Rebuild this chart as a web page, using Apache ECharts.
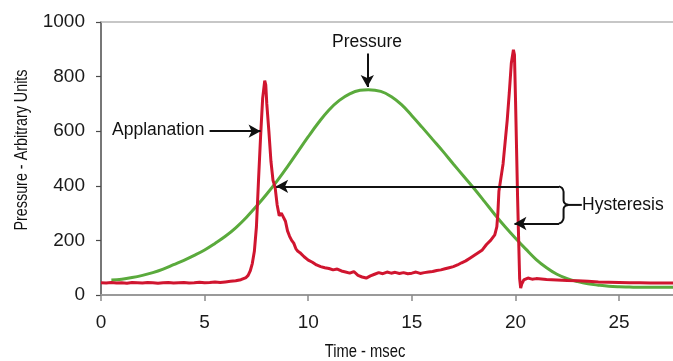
<!DOCTYPE html>
<html><head><meta charset="utf-8">
<script src="https://cdn.jsdelivr.net/npm/echarts@6/dist/echarts.min.js"></script>
<style>html,body{margin:0;padding:0;background:#fff}#c{width:673px;height:361px}</style>
</head><body><div id="c"></div>
<script>
// ---- data ----
const xTicks = [0, 5, 10, 15, 20, 25];
const yTicks = [0, 200, 400, 600, 800, 1000];
const xTitle = 'Time - msec';
const yTitle = 'Pressure - Arbitrary Units';

// Applanation signal (red)
const redTime = [0,0.25,0.5,0.75,1,1.25,1.5,1.75,2,2.25,2.5,2.75,3,3.25,3.5,3.75,4,4.25,4.5,4.75,5,5.25,5.5,5.75,6,6.25,6.5,6.75,7,7.1,7.2,7.3,7.4,7.5,7.6,7.7,7.8,7.9,7.95,8.0,8.1,8.2,8.3,8.4,8.5,8.6,8.7,8.8,8.9,9.0,9.1,9.2,9.3,9.4,9.5,9.6,9.8,10.0,10.2,10.4,10.6,10.8,11.0,11.2,11.4,11.6,11.8,12.0,12.2,12.4,12.6,12.8,13.0,13.2,13.4,13.6,13.8,14.0,14.2,14.4,14.6,14.8,15.0,15.2,15.4,15.6,15.8,16.0,16.2,16.4,16.6,16.8,17.0,17.2,17.4,17.6,17.8,18.0,18.2,18.4,18.6,18.8,18.9,19.0,19.1,19.15,19.2,19.3,19.4,19.5,19.6,19.7,19.8,19.9,19.95,20.0,20.05,20.1,20.15,20.2,20.25,20.3,20.4,20.6,20.8,21.0,21.5,22,22.5,23,23.5,24,24.5,25,25.5,26,26.5,27,27.6];
const redPressure = [45,44,46,44,45,43,46,45,44,46,45,43,45,46,44,45,46,44,45,47,45,46,48,46,48,50,52,56,64,72,88,115,160,250,420,580,720,785,770,700,600,490,420,395,330,290,300,285,270,235,215,200,190,170,160,155,140,128,120,110,104,100,97,92,95,88,84,80,86,72,66,62,70,76,82,78,84,80,83,79,82,78,80,84,79,82,84,86,90,92,96,100,104,110,118,125,135,145,155,165,185,200,210,220,250,300,380,430,480,560,640,740,850,898,880,720,540,360,210,60,25,40,55,62,58,60,57,55,53,52,50,48,47,46,45,45,44,44,44];

// Pressure (green)
const greenTime = [0.5,1,1.5,2,2.5,3,3.5,4,4.5,5,5.5,6,6.5,7,7.5,8,8.5,9,9.5,10,10.5,11,11.5,12,12.5,12.9,13.5,14,14.5,15,15.5,16,16.5,17,17.5,18,18.5,19,19.5,20,20.5,21,21.5,22,22.5,23,23.5,24,24.5,25,25.5,26,27,27.6];
const greenPressure = [55,58,64,72,82,95,111,127,145,165,189,215,246,283,325,370,418,470,525,580,632,678,713,737,750,752,746,727,697,657,614,570,526,480,435,390,343,295,250,208,168,130,100,76,60,49,41,36,32,30,29,28,28,28];

// annotation labels
const annotationLabels = ['Pressure', 'Applanation', 'Hysteresis'];
// annotation arrows in data units: [fromX, fromY, toX, toY]
const arrowPressure = [12.85, 885, 12.85, 762];
const arrowApplanation = [5.24, 600, 7.70, 600];
const arrowHystTop = [22.1, 398, 8.45, 398];
const arrowHystBottom = [22.1, 262, 19.95, 262];
// curly bracket and connector (data units)
const bracketX = [22.1, 22.24, 22.32, 22.32, 22.4, 22.55, 22.4, 22.32, 22.32, 22.24, 22.1];
const bracketY = [398, 392, 378, 345, 334, 330, 326, 315, 282, 268, 262];
const connectorX = [22.55, 23.2];
const connectorY = [330, 330];

const zip = (a, b) => a.map((v, i) => [v, b[i]]);
const FONT = 'Liberation Sans, Arial, sans-serif';

function arrow(a) {
  return [
    { coord: [a[0], a[1]], symbol: 'none' },
    { coord: [a[2], a[3]], symbol: 'arrow', symbolSize: [10, 12] }
  ];
}

const chart = echarts.init(document.getElementById('c'), null, { renderer: 'canvas' });
chart.setOption({
  animation: false,
  backgroundColor: '#ffffff',
  grid: { left: 101, right: 0, top: 22, bottom: 66, containLabel: false },
  xAxis: [{
    type: 'value', min: 0, max: 27.6, interval: 5, position: 'bottom',
    axisLine: { show: true, onZero: false, lineStyle: { color: '#9a9a9a', width: 2 } },
    axisTick: { show: true, length: 6, customValues: xTicks, lineStyle: { color: '#8a8a8a', width: 1.5 } },
    axisLabel: { fontSize: 19, color: '#1a1a1a', margin: 18, fontFamily: FONT, customValues: xTicks, formatter: v => String(v) },
    splitLine: { show: false }
  }, {
    type: 'value', min: 0, max: 27.6, position: 'top',
    axisLine: { show: true, onZero: false, lineStyle: { color: '#b5b5b5', width: 1.5 } },
    axisTick: { show: false }, axisLabel: { show: false }, splitLine: { show: false }
  }],
  yAxis: {
    type: 'value', min: 0, max: 1000, interval: 200,
    axisLine: { show: true, lineStyle: { color: '#4a4a4a', width: 1.5 } },
    axisTick: { show: true, length: 5, lineStyle: { color: '#4a4a4a', width: 1.2 } },
    axisLabel: { fontSize: 19, color: '#1a1a1a', margin: 16, fontFamily: FONT, formatter: v => String(v) },
    splitLine: { show: false }
  },
  series: [
    {
      name: 'Pressure', type: 'line', data: zip(greenTime, greenPressure),
      showSymbol: false, silent: true, smooth: 0.4,
      lineStyle: { color: '#5aaa3c', width: 3 }
    },
    {
      name: 'Applanation', type: 'line', data: zip(redTime, redPressure),
      showSymbol: false, silent: true,
      lineStyle: { color: '#d0152f', width: 3 }
    },
    {
      name: 'bracket', type: 'line', data: zip(bracketX, bracketY),
      showSymbol: false, silent: true, smooth: 0.35,
      lineStyle: { color: '#111', width: 2 },
      markLine: {
        silent: true, animation: false,
        label: { show: false },
        lineStyle: { color: '#111', width: 2, type: 'solid' },
        data: [arrow(arrowPressure), arrow(arrowApplanation), arrow(arrowHystTop), arrow(arrowHystBottom)]
      }
    },
    {
      name: 'connector', type: 'line', data: zip(connectorX, connectorY),
      showSymbol: false, silent: true,
      lineStyle: { color: '#111', width: 2 }
    }
  ],
  graphic: [
    { type: 'text', x: 367, y: 42, silent: true,
      style: { text: annotationLabels[0], font: '17.5px ' + FONT, fill: '#111', textAlign: 'center', textVerticalAlign: 'middle' } },
    { type: 'text', x: 112, y: 130, silent: true,
      style: { text: annotationLabels[1], font: '17.5px ' + FONT, fill: '#111', textAlign: 'left', textVerticalAlign: 'middle' } },
    { type: 'text', x: 582, y: 205, silent: true,
      style: { text: annotationLabels[2], font: '17.5px ' + FONT, fill: '#111', textAlign: 'left', textVerticalAlign: 'middle' } },
    { type: 'text', x: 365, y: 352, scaleX: 0.82, silent: true,
      style: { text: xTitle, font: '18px ' + FONT, fill: '#111', textAlign: 'center', textVerticalAlign: 'middle' } },
    { type: 'text', x: 22, y: 150, rotation: Math.PI / 2, scaleX: 0.82, silent: true,
      style: { text: yTitle, font: '17.5px ' + FONT, fill: '#111', textAlign: 'center', textVerticalAlign: 'middle' } }
  ]
});
</script>
</body></html>
